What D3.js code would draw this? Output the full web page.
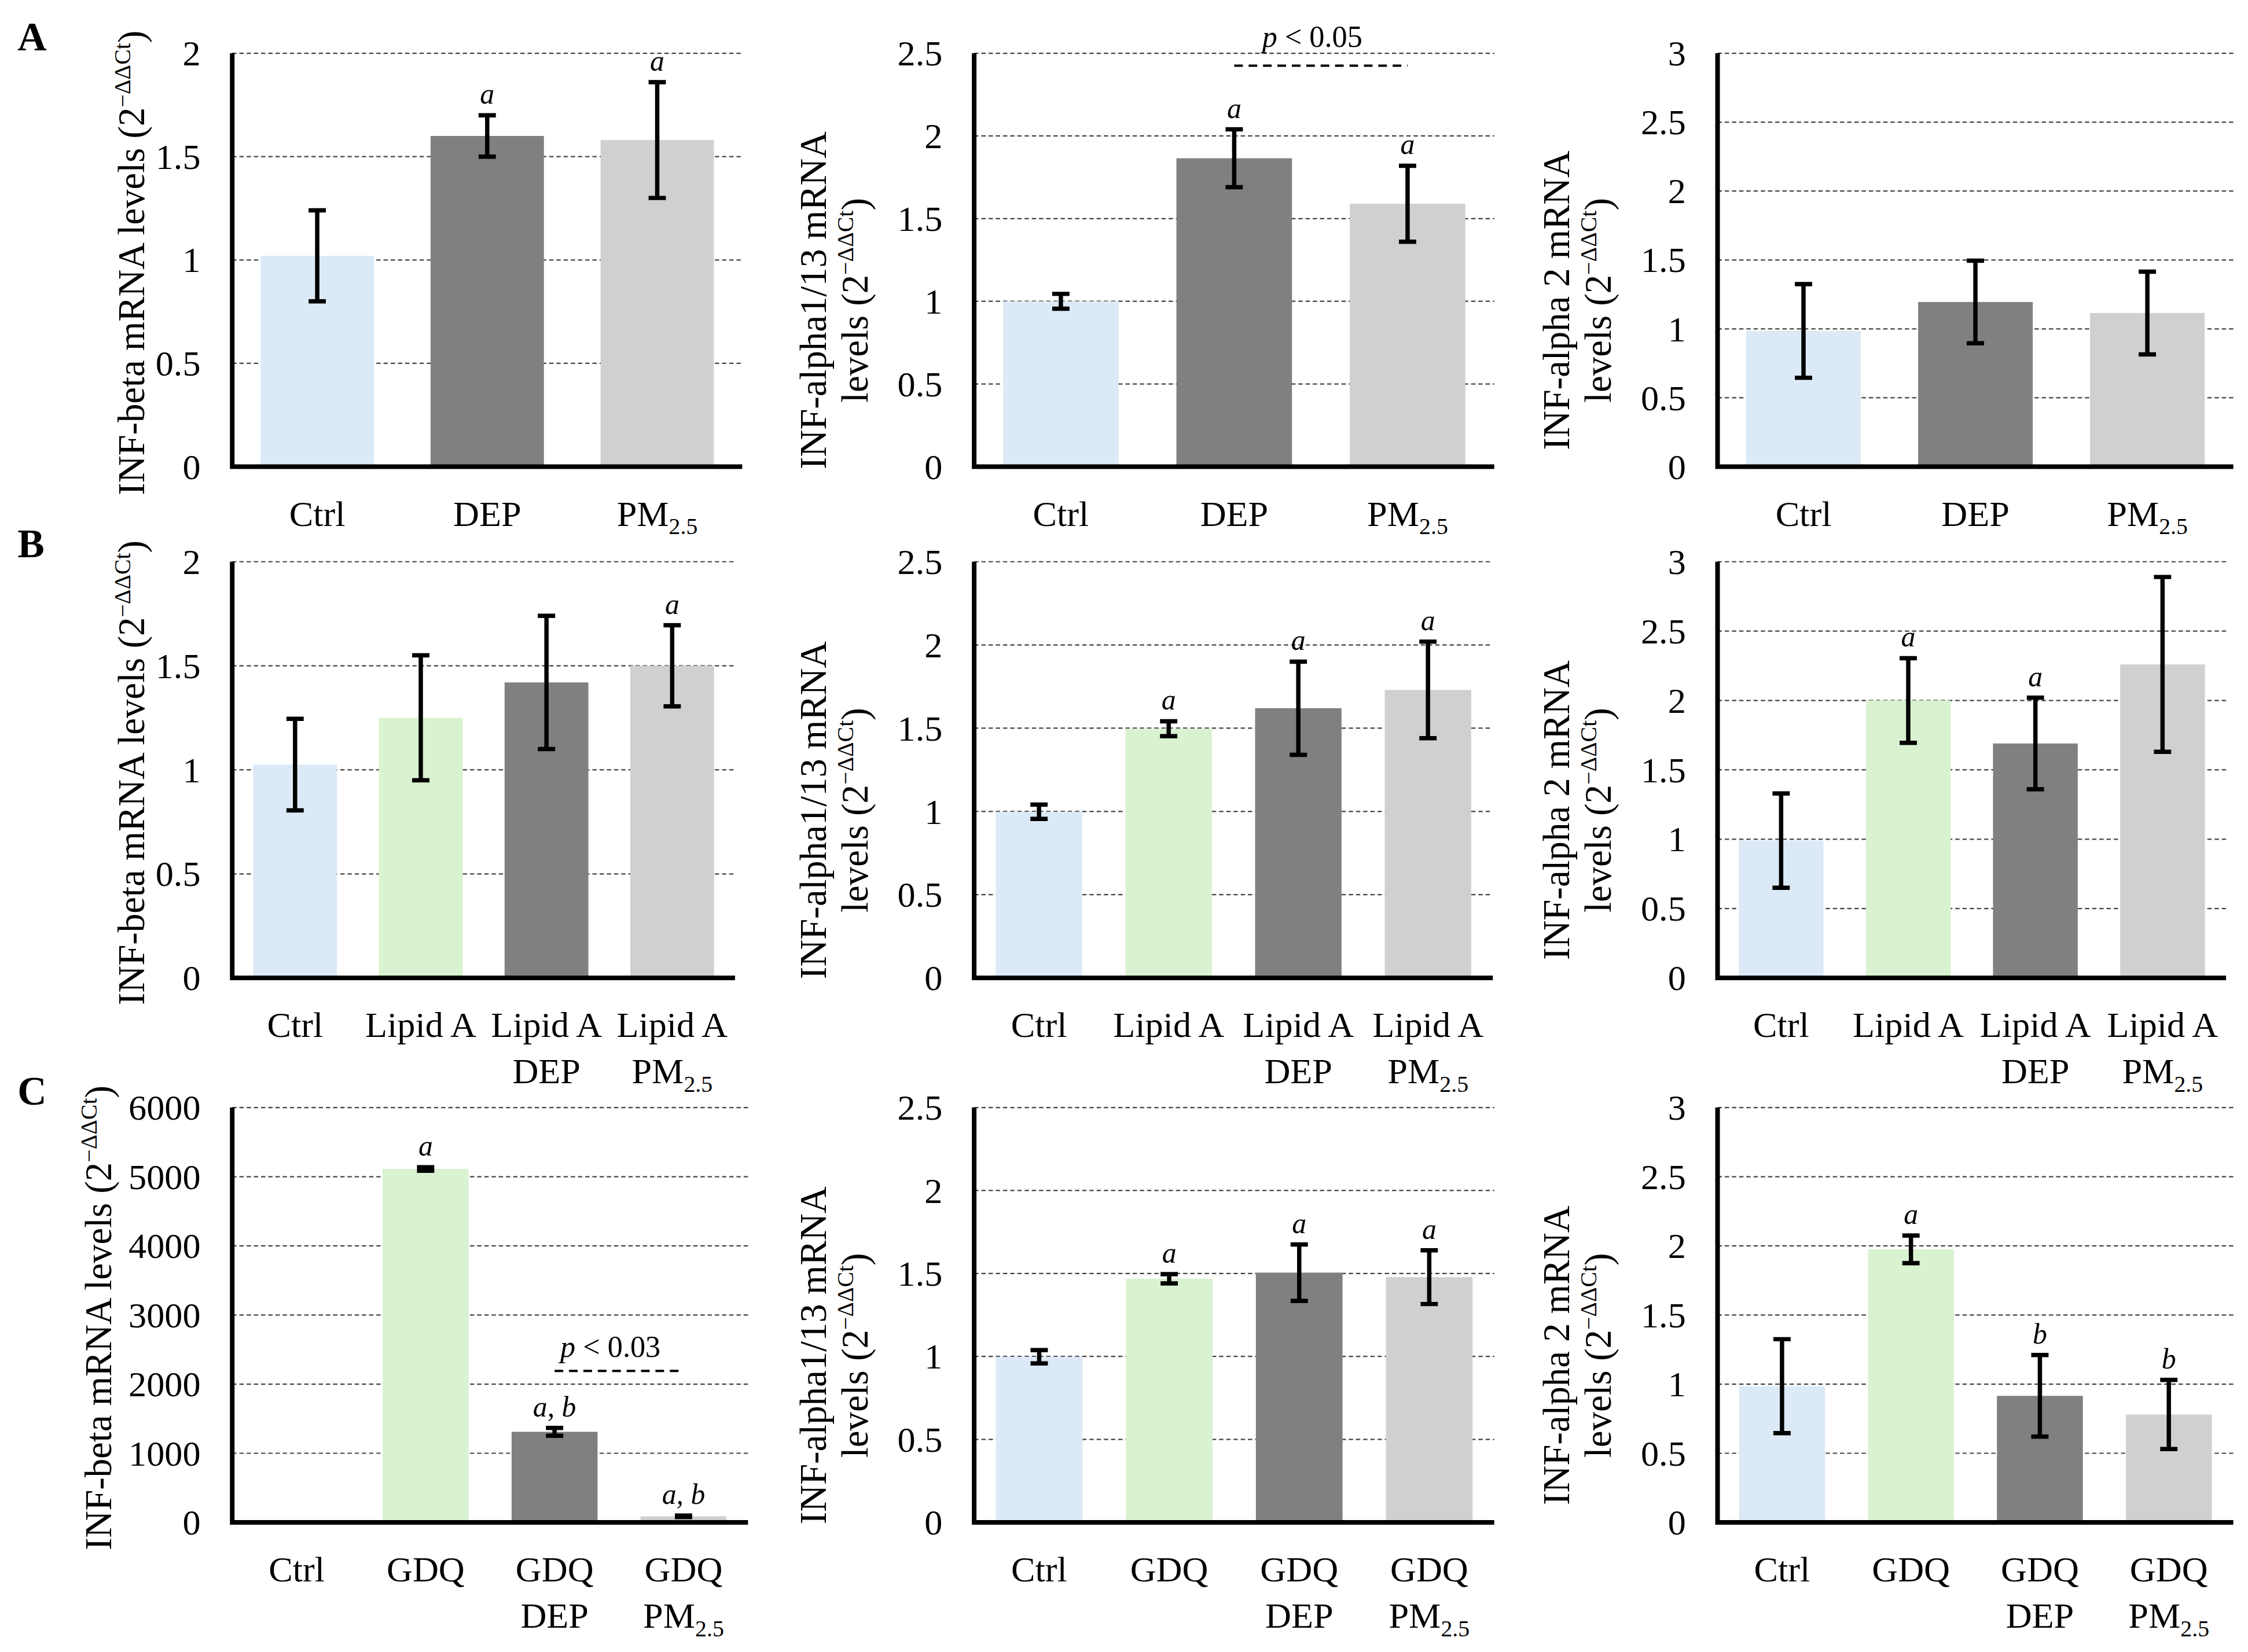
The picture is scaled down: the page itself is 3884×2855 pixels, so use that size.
<!DOCTYPE html>
<html>
<head>
<meta charset="utf-8">
<title>INF mRNA levels</title>
<script src="https://d3js.org/d3.v7.min.js"></script>
<style>
  body { margin: 0; background: #fff; }
  svg { display: block; }
  text { font-family: "Palatino Linotype", "Book Antiqua", Palatino, "Liberation Serif", serif; fill: #000; }
</style>
</head>
<body>
<script>
// groups on the x axis ("|" breaks the label onto a second line)
var groupsA = ["Ctrl", "DEP", "PM2.5"];
var groupsB = ["Ctrl", "Lipid A", "Lipid A|DEP", "Lipid A|PM2.5"];
var groupsC = ["Ctrl", "GDQ", "GDQ|DEP", "GDQ|PM2.5"];

var coloursA = ["#dce9f6", "#808080", "#d0d0d0"];
var coloursBC = ["#dce9f6", "#d9f2d0", "#808080", "#d0d0d0"];

// y tick values
var ticks2 = [0, 0.5, 1, 1.5, 2];
var ticks25 = [0, 0.5, 1, 1.5, 2, 2.5];
var ticks3 = [0, 0.5, 1, 1.5, 2, 2.5, 3];
var ticks6000 = [0, 1000, 2000, 3000, 4000, 5000, 6000];

// row A: means and error bars
var betaA = [1.02, 1.60, 1.58], betaAErr = [0.22, 0.10, 0.28];
var alpha113A = [1.00, 1.865, 1.59], alpha113AErr = [0.045, 0.175, 0.23];
var alpha2A = [0.985, 1.195, 1.115], alpha2AErr = [0.34, 0.30, 0.30];
// row B
var betaB = [1.025, 1.25, 1.42, 1.50], betaBErr = [0.22, 0.30, 0.32, 0.195];
var alpha113B = [0.998, 1.497, 1.62, 1.73], alpha113BErr = [0.043, 0.045, 0.28, 0.29];
var alpha2B = [0.99, 2.0, 1.69, 2.26], alpha2BErr = [0.34, 0.305, 0.33, 0.63];
// row C
var betaC = [1, 5112, 1310, 88], betaCErr = [0, 25, 57, 10];
var alpha113C = [0.998, 1.468, 1.505, 1.478], alpha113CErr = [0.04, 0.028, 0.17, 0.162];
var alpha2C = [0.985, 1.975, 0.915, 0.78], alpha2CErr = [0.34, 0.10, 0.295, 0.25];

// significance letters above the bars
var sigBetaA = ["", "a", "a"], sigAlpha113A = ["", "a", "a"], sigAlpha2A = ["", "", ""];
var sigBetaB = ["", "", "", "a"], sigAlpha113B = ["", "a", "a", "a"], sigAlpha2B = ["", "a", "a", ""];
var sigBetaC = ["", "a", "a, b", "a, b"], sigAlpha113C = ["", "a", "a", "a"], sigAlpha2C = ["", "a", "b", "b"];

// p-value brackets: [from group, to group, line value, text value]
var pBracketA = [1, 2, 2.425, 2.54];
var pBracketC = [2, 3, 2190, 2390];
var pTextA = "0.05", pTextC = "0.03";

var titleBeta = ["INF-beta mRNA levels"];
var titleAlpha113 = ["INF-alpha1/13 mRNA", "levels"];
var titleAlpha2 = ["INF-alpha 2 mRNA", "levels"];
var panelLetters = ["A", "B", "C"];

var W = 1560, H = 1147;
var svg = d3.select("body").append("svg")
  .attr("width", 3884)
  .attr("height", 2855)
  .attr("viewBox", "0 0 " + W + " " + H);

svg.append("rect").attr("width", W).attr("height", H).attr("fill", "white");

// layout of the 3x3 grid
var colX0 = [161, 676, 1192];
var rowTop = [37, 390, 769];
var rowBottom = [324, 679, 1057];
var rowRight = [[515, 1037, 1550], [510, 1036, 1545], [519, 1037, 1550]];
var letterY = [35, 387, 767];

var panels = [
  {row: 0, col: 0, groups: groupsA, colours: coloursA, values: betaA, errs: betaAErr, sig: sigBetaA, ticks: ticks2, title: titleBeta, titleGap: 61},
  {row: 0, col: 1, groups: groupsA, colours: coloursA, values: alpha113A, errs: alpha113AErr, sig: sigAlpha113A, ticks: ticks25, title: titleAlpha113, p: pBracketA, pText: pTextA},
  {row: 0, col: 2, groups: groupsA, colours: coloursA, values: alpha2A, errs: alpha2AErr, sig: sigAlpha2A, ticks: ticks3, title: titleAlpha2},
  {row: 1, col: 0, groups: groupsB, colours: coloursBC, values: betaB, errs: betaBErr, sig: sigBetaB, ticks: ticks2, title: titleBeta, titleGap: 61},
  {row: 1, col: 1, groups: groupsB, colours: coloursBC, values: alpha113B, errs: alpha113BErr, sig: sigAlpha113B, ticks: ticks25, title: titleAlpha113},
  {row: 1, col: 2, groups: groupsB, colours: coloursBC, values: alpha2B, errs: alpha2BErr, sig: sigAlpha2B, ticks: ticks3, title: titleAlpha2},
  {row: 2, col: 0, groups: groupsC, colours: coloursBC, values: betaC, errs: betaCErr, sig: sigBetaC, ticks: ticks6000, title: titleBeta, titleGap: 84, p: pBracketC, pText: pTextC},
  {row: 2, col: 1, groups: groupsC, colours: coloursBC, values: alpha113C, errs: alpha113CErr, sig: sigAlpha113C, ticks: ticks25, title: titleAlpha113},
  {row: 2, col: 2, groups: groupsC, colours: coloursBC, values: alpha2C, errs: alpha2CErr, sig: sigAlpha2C, ticks: ticks3, title: titleAlpha2}
];

// write a label that may contain PM2.5 (subscript)
function writeLabel(sel, str) {
  var m = str.indexOf("PM2.5");
  if (m < 0) { sel.append("tspan").text(str); return; }
  sel.append("tspan").text(str.slice(0, m) + "PM");
  sel.append("tspan").attr("font-size", 16).attr("dy", 6).text("2.5");
  sel.append("tspan").attr("dy", -6).text(str.slice(m + 5));
}

panels.forEach(function(p) {
  var x0 = colX0[p.col], x1 = rowRight[p.row][p.col];
  var top = rowTop[p.row], bottom = rowBottom[p.row];
  var g = svg.append("g");

  var x = d3.scaleBand()
    .domain(d3.range(p.groups.length))
    .range([x0, x1])
    .paddingInner(1 / 3)
    .paddingOuter(1 / 6);
  var y = d3.scaleLinear()
    .domain([0, d3.max(p.ticks)])
    .range([bottom, top]);

  // dashed gridlines
  g.selectAll(".grid").data(p.ticks.filter(function(d) { return d > 0; }))
    .enter().append("line")
    .attr("x1", x0).attr("x2", x1)
    .attr("y1", function(d) { return y(d); })
    .attr("y2", function(d) { return y(d); })
    .attr("stroke", "#444")
    .attr("stroke-width", 0.9)
    .attr("stroke-dasharray", "3,2");

  // tick labels
  var axis = d3.axisLeft(y).tickValues(p.ticks).tickSize(0).tickPadding(22)
    .tickFormat(function(d) { return String(d); });
  var ax = g.append("g").attr("transform", "translate(" + x0 + ",0)").call(axis);
  ax.attr("font-family", null).attr("font-size", null);
  ax.select(".domain").remove();
  ax.selectAll("text").attr("font-size", 25);

  // bars
  g.selectAll(".bar").data(p.values).enter().append("rect")
    .attr("x", function(d, i) { return x(i); })
    .attr("width", x.bandwidth())
    .attr("y", function(d) { return y(d); })
    .attr("height", function(d) { return y(0) - y(d); })
    .attr("fill", function(d, i) { return p.colours[i]; });

  // error bars
  var cx = function(i) { return x(i) + x.bandwidth() / 2; };
  p.values.forEach(function(v, i) {
    var e = p.errs[i];
    var yt = y(v + e), yb = y(v - e);
    var path = "M" + cx(i) + "," + yt + "V" + yb +
      "M" + (cx(i) - 6) + "," + yt + "H" + (cx(i) + 6) +
      "M" + (cx(i) - 6) + "," + yb + "H" + (cx(i) + 6);
    g.append("path").attr("d", path)
      .attr("fill", "none").attr("stroke", "#000").attr("stroke-width", 3);
    if (p.sig[i]) {
      g.append("text")
        .attr("x", cx(i)).attr("y", yt - 8)
        .attr("text-anchor", "middle")
        .attr("font-style", "italic")
        .attr("font-size", 20)
        .text(p.sig[i]);
    }
  });

  // p-value bracket
  if (p.p) {
    g.append("line")
      .attr("x1", cx(p.p[0])).attr("x2", cx(p.p[1]))
      .attr("y1", y(p.p[2])).attr("y2", y(p.p[2]))
      .attr("stroke", "#000").attr("stroke-width", 1.6)
      .attr("stroke-dasharray", "6,4");
    var t = g.append("text")
      .attr("x", (cx(p.p[0]) + cx(p.p[1])) / 2 - 6)
      .attr("y", y(p.p[3]))
      .attr("text-anchor", "middle")
      .attr("font-size", 21);
    t.append("tspan").attr("font-style", "italic").text("p");
    t.append("tspan").text(" < " + p.pText);
  }

  // axis lines
  g.append("path")
    .attr("d", "M" + x0 + "," + top + "V" + bottom + "H" + x1)
    .attr("fill", "none").attr("stroke", "#000").attr("stroke-width", 3.2);

  // category labels
  p.groups.forEach(function(name, i) {
    name.split("|").forEach(function(line, k) {
      var t = g.append("text")
        .attr("x", cx(i))
        .attr("y", bottom + 41 + k * 32)
        .attr("text-anchor", "middle")
        .attr("font-size", 25);
      writeLabel(t, line);
    });
  });

  // y axis title
  var single = p.title.length === 1;
  var midY = (top + bottom) / 2 + (single ? 2 : 28);
  p.title.forEach(function(line, k) {
    var bx = single ? x0 - p.titleGap : x0 - 103 + k * 29;
    var t = g.append("text")
      .attr("transform", "translate(" + bx + "," + midY + ") rotate(-90)")
      .attr("text-anchor", "middle")
      .attr("font-size", 26);
    t.append("tspan").text(line);
    if (k === p.title.length - 1) {
      t.append("tspan").text(" (2");
      t.append("tspan").attr("font-size", 16).attr("dy", -10).text("\u2212\u0394\u0394Ct");
      t.append("tspan").attr("dy", 10).text(")");
    }
  });
});

// panel letters
panelLetters.forEach(function(l, i) {
  svg.append("text")
    .attr("x", 12).attr("y", letterY[i])
    .attr("font-size", 28)
    .attr("font-weight", "bold")
    .text(l);
});
</script>
</body>
</html>
